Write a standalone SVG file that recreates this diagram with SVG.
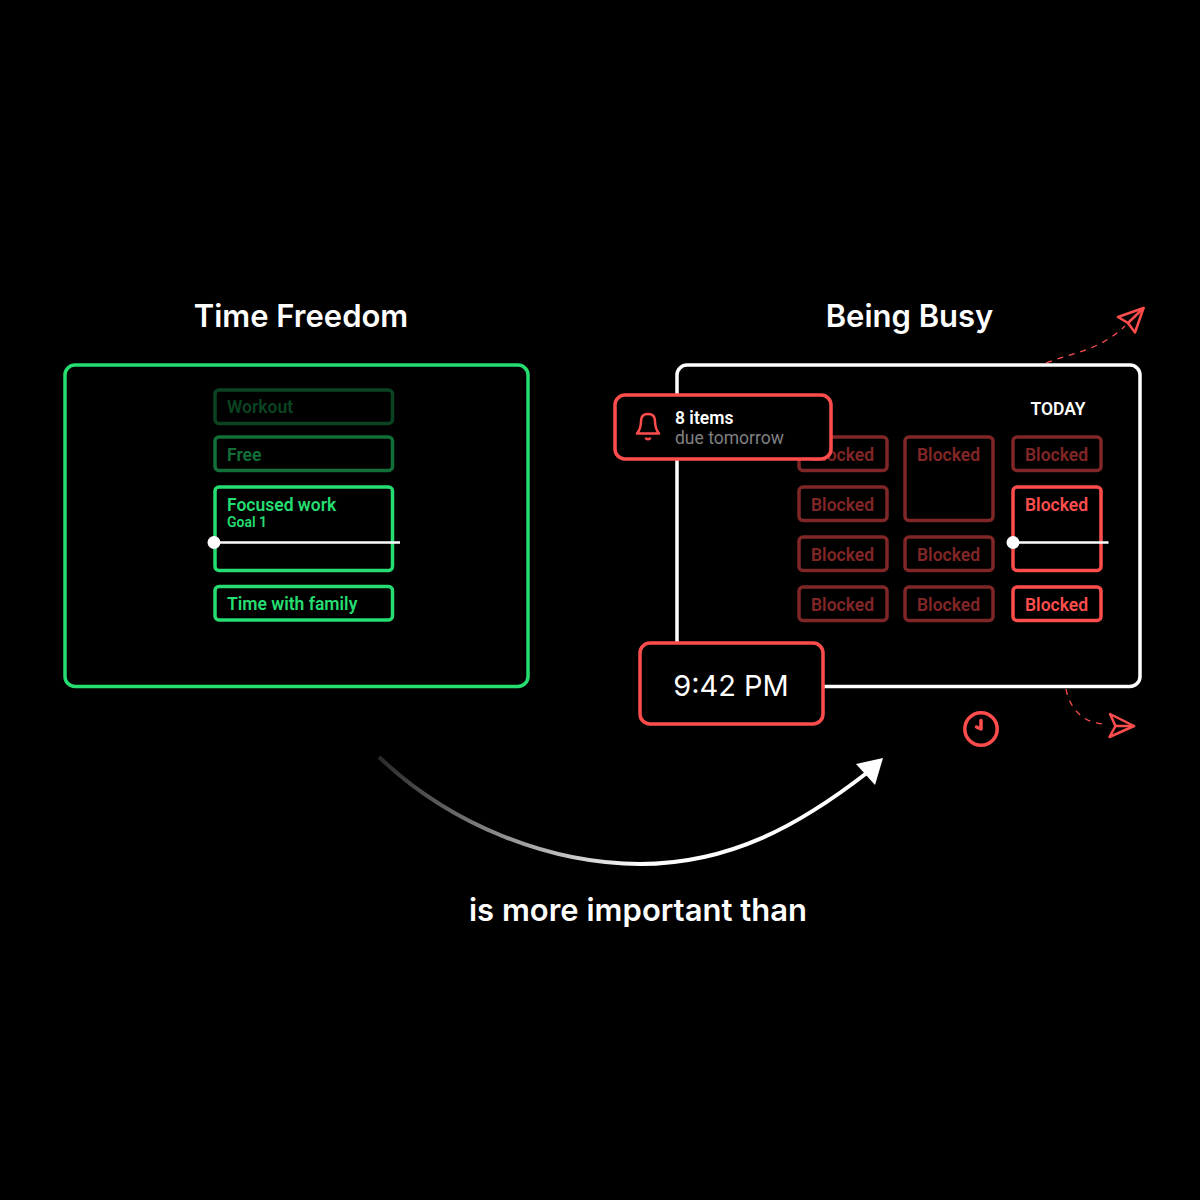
<svg xmlns="http://www.w3.org/2000/svg" width="1200" height="1200" viewBox="0 0 1200 1200">
<style>
text{font-family:Roboto,"Liberation Sans",sans-serif}
.h{font-family:Inter,"Liberation Sans",sans-serif;font-size:31px;font-weight:600;fill:#fff;text-anchor:middle}
.panel{fill:none;stroke-width:3.5}
.cell{fill:#000;stroke-width:3.5}
.g{stroke:#25DD70}
.gt{fill:#25DD70;font-size:17.5px;font-weight:600}
.r{stroke:#FF4D4D}
.rt{fill:#FF4D4D;font-size:17.5px;font-weight:600;text-anchor:middle}
.dim{opacity:.5}
.ic{fill:none;stroke:#FF4D4D;stroke-width:2.5;stroke-linejoin:round;stroke-linecap:round}
.ck{stroke-width:3.5}
.dash{fill:none;stroke:#FF4D4D;stroke-width:1.3;stroke-dasharray:6 6}
</style>
<defs>
<linearGradient id="ag" gradientUnits="userSpaceOnUse" x1="379" y1="0" x2="640" y2="0">
<stop offset="0" stop-color="#2a2a2a"/><stop offset="1" stop-color="#fff"/>
</linearGradient>
</defs>
<rect width="1200" height="1200" fill="#000"/>
<text class="h" x="301" y="327">Time Freedom</text>
<text class="h" x="909.500" y="327">Being Busy</text>
<g id="connectors">
<path d="M379 757C450 825 550 864 640 864C730 864 800 825 868 772" fill="none" stroke="url(#ag)" stroke-width="4"/>
<polygon points="883,758 856,764 875,785" fill="#fff"/>
<path class="dash" d="M1046 363C1075 352 1100 350 1125 326"/>
<path class="dash" d="M1066 689C1070 710 1085 724 1105 724"/>
</g>
<g id="time-freedom">
<rect class="panel g" x="65" y="365" width="463" height="321.500" rx="10"/>
<g id="workout" opacity=".3"><rect class="cell g" x="215" y="390" width="177.500" height="33.500" rx="4"/><text class="gt" x="227" y="413">Workout</text></g>
<g id="free" opacity=".5"><rect class="cell g" x="215" y="437" width="177.500" height="33.500" rx="4"/><text class="gt" x="227" y="461">Free</text></g>
<g id="focused"><rect class="cell g" x="215" y="487" width="177.500" height="83.500" rx="4"/><text class="gt" x="227" y="510.500">Focused work</text><text x="227" y="527" fill="#25DD70" font-size="14" font-weight="600">Goal 1</text></g>
<g id="family"><rect class="cell g" x="215" y="586.500" width="177.500" height="33.500" rx="4"/><text class="gt" x="227" y="610">Time with family</text></g>
<g id="now-left"><line x1="214" y1="542.500" x2="400" y2="542.500" stroke="#fff" stroke-width="2.500"/><circle cx="214" cy="542.500" r="6.500" fill="#fff"/></g>
</g>
<g id="being-busy">
<rect class="panel" stroke="#fff" x="677" y="365" width="463" height="321.500" rx="10"/>
<text x="1058" y="414.500" fill="#fff" font-size="17.500" font-weight="600" text-anchor="middle">TODAY</text>
<g class="dim">
<rect class="cell r" x="799" y="437" width="88" height="33.500" rx="4"/><text class="rt" x="842.500" y="461">Blocked</text>
<rect class="cell r" x="799" y="487" width="88" height="33.500" rx="4"/><text class="rt" x="842.500" y="511">Blocked</text>
<rect class="cell r" x="799" y="537" width="88" height="33.500" rx="4"/><text class="rt" x="842.500" y="561">Blocked</text>
<rect class="cell r" x="799" y="587" width="88" height="33.500" rx="4"/><text class="rt" x="842.500" y="610.500">Blocked</text>
<rect class="cell r" x="905" y="437" width="88" height="83.500" rx="4"/><text class="rt" x="948.500" y="461">Blocked</text>
<rect class="cell r" x="905" y="537" width="88" height="33.500" rx="4"/><text class="rt" x="948.500" y="561">Blocked</text>
<rect class="cell r" x="905" y="587" width="88" height="33.500" rx="4"/><text class="rt" x="948.500" y="610.500">Blocked</text>
<rect class="cell r" x="1013" y="437" width="88" height="33.500" rx="4"/><text class="rt" x="1056.500" y="461">Blocked</text>
</g>
<rect class="cell r" x="1013" y="487" width="88" height="83.500" rx="4"/><text class="rt" x="1056.500" y="511">Blocked</text>
<rect class="cell r" x="1013" y="587" width="88" height="33.500" rx="4"/><text class="rt" x="1056.500" y="610.500">Blocked</text>
<g id="now-right"><line x1="1013" y1="542.500" x2="1108.500" y2="542.500" stroke="#fff" stroke-width="2.500"/><circle cx="1013" cy="542.500" r="6.500" fill="#fff"/></g>
</g>
<g id="notification">
<rect x="615" y="395" width="216" height="64" rx="10" fill="#000" stroke="#FF4D4D" stroke-width="3.500"/>
<path class="ic" d="M637 433.500C640 430 641 427 641 421C641 416 644 414 648 414C652 414 655 416 655 421C655 427 656 430 659 433.500Z"/>
<path class="ic" d="M646 438.500Q648 440 650 438.500"/>
<text x="675" y="423.500" fill="#fff" font-size="17.500" font-weight="600">8 items</text>
<text x="675" y="443.500" fill="#808080" font-size="17.500">due tomorrow</text>
</g>
<g id="clock-time">
<rect x="640" y="643" width="183" height="81" rx="10" fill="#000" stroke="#FF4D4D" stroke-width="3.500"/>
<text x="731" y="695.500" fill="#fff" font-size="29" text-anchor="middle" style="font-family:Inter,'Liberation Sans',sans-serif">9:42 PM</text>
</g>
<g id="clock-icon">
<circle class="ic ck" cx="981" cy="729" r="16.200"/>
<path class="ic ck" d="M981 720.500V729L976.500 727"/>
</g>
<g id="plane-top">
<path class="ic" d="M1143.500 308L1118 317L1128 323L1135 332.500Z"/>
<path class="ic" d="M1143.500 308L1128 323"/>
</g>
<g id="plane-right">
<path class="ic" d="M1134 726L1110 714L1115.500 726L1109.500 737Z"/>
<path class="ic" d="M1134 726H1115.500"/>
</g>
<text class="h" x="638" y="921">is more important than</text>
</svg>
